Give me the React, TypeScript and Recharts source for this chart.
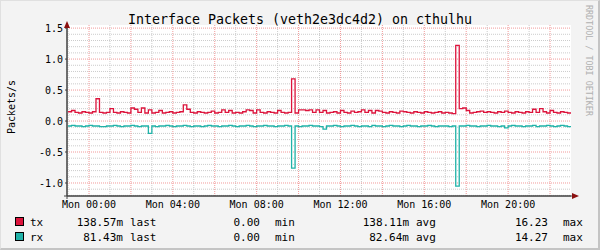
import { LineChart, Line, XAxis, YAxis, CartesianGrid } from "recharts";

// 10 minute samples, starting Sun 23:00 (t = -1 h)
const startHour = -1;
const stepHours = 1 / 6;

const tx = [
  0.15, 0.17, 0.14, 0.13, 0.15, 0.14, 0.13, 0.15, 0.36, 0.14, 0.13, 0.14,
  0.2, 0.14, 0.13, 0.15, 0.14, 0.13, 0.21, 0.19, 0.14, 0.21, 0.13, 0.18,
  0.13, 0.14, 0.17, 0.13, 0.14, 0.15, 0.13, 0.14, 0.15, 0.26, 0.19, 0.14,
  0.13, 0.15, 0.14, 0.13, 0.14, 0.16, 0.13, 0.14, 0.18, 0.14, 0.17, 0.13,
  0.14, 0.13, 0.15, 0.18, 0.17, 0.13, 0.18, 0.14, 0.13, 0.15, 0.14, 0.13,
  0.17, 0.14, 0.13, 0.14, 0.68, 0.13, 0.18, 0.18, 0.17, 0.18, 0.14, 0.18,
  0.14, 0.17, 0.13, 0.14, 0.15, 0.13, 0.17, 0.14, 0.13, 0.16, 0.14, 0.15,
  0.18, 0.14, 0.17, 0.13, 0.17, 0.16, 0.14, 0.13, 0.15, 0.14, 0.13, 0.16,
  0.15, 0.14, 0.13, 0.15, 0.14, 0.13, 0.15, 0.14, 0.13, 0.14, 0.15, 0.13,
  0.14, 0.13, 0.12, 1.22, 0.2, 0.21, 0.17, 0.13, 0.14, 0.15, 0.16, 0.14,
  0.15, 0.14, 0.13, 0.15, 0.14, 0.16, 0.14, 0.13, 0.15, 0.14, 0.13, 0.15,
  0.14, 0.19, 0.14, 0.2, 0.15, 0.13, 0.17, 0.14, 0.13, 0.15, 0.14, 0.13, 0.14,
];

// rx is drawn mirrored below zero
const rx = [
  0.08, 0.07, 0.08, 0.08, 0.09, 0.08, 0.07, 0.08, 0.08, 0.09, 0.09, 0.08,
  0.08, 0.07, 0.08, 0.09, 0.08, 0.08, 0.07, 0.08, 0.09, 0.08, 0.08, 0.2,
  0.08, 0.09, 0.08, 0.08, 0.07, 0.08, 0.09, 0.08, 0.08, 0.07, 0.08, 0.09,
  0.08, 0.08, 0.09, 0.08, 0.07, 0.08, 0.08, 0.09, 0.08, 0.08, 0.07, 0.08,
  0.09, 0.08, 0.08, 0.07, 0.08, 0.09, 0.08, 0.08, 0.07, 0.08, 0.08, 0.09,
  0.08, 0.08, 0.07, 0.08, 0.76, 0.08, 0.09, 0.08, 0.08, 0.07, 0.08, 0.08,
  0.09, 0.13, 0.08, 0.08, 0.07, 0.08, 0.09, 0.08, 0.08, 0.07, 0.08, 0.09,
  0.08, 0.08, 0.09, 0.07, 0.08, 0.08, 0.09, 0.08, 0.07, 0.08, 0.08, 0.09,
  0.08, 0.07, 0.08, 0.08, 0.09, 0.08, 0.08, 0.07, 0.08, 0.09, 0.08, 0.08,
  0.08, 0.09, 0.08, 1.05, 0.08, 0.08, 0.07, 0.08, 0.08, 0.09, 0.08, 0.08,
  0.07, 0.08, 0.08, 0.09, 0.08, 0.11, 0.08, 0.07, 0.08, 0.08, 0.09, 0.08,
  0.08, 0.07, 0.09, 0.08, 0.08, 0.07, 0.08, 0.09, 0.08, 0.07, 0.08, 0.09, 0.08,
];

const xLabelHours = [0, 4, 8, 12, 16, 20];
const xMajorHours = [0, 2, 4, 6, 8, 10, 12, 14, 16, 18, 20, 22];
const xMinorHours = [-1, 1, 3, 5, 7, 9, 11, 13, 15, 17, 19, 21];
const yMajor = [-1, -0.5, 0, 0.5, 1, 1.5];
const yMinor = [
  -1.2, -1.1, -0.9, -0.8, -0.7, -0.6, -0.4, -0.3, -0.2, -0.1, 0.1, 0.2, 0.3,
  0.4, 0.6, 0.7, 0.8, 0.9, 1.1, 1.2, 1.3, 1.4,
];

const legendRows = [
  { name: "tx", color: "#dc143c", last: "138.57m", min: "0.00", avg: "138.11m", max: "16.23" },
  { name: "rx", color: "#20b2a8", last: "81.43m", min: "0.00", avg: "82.64m", max: "14.27" },
];

const data = tx.map((v, i) => ({
  t: startHour + i * stepHours,
  tx: v,
  rx: -rx[i],
}));

const mono = "'DejaVu Sans Mono', monospace";

export default function App() {
  return (
    <div
      style={{
        position: "absolute",
        left: 0,
        top: 0,
        width: 600,
        height: 250,
        background: "#f3f3f3",
        boxSizing: "border-box",
        borderRight: "2px solid #c4c4c4",
        borderBottom: "2px solid #c4c4c4",
        borderTop: "1px solid #e0e0e0",
        borderLeft: "1px solid #e0e0e0",
      }}
    >
      <div style={{ position: "absolute", left: -1, top: -1 }}>
        <LineChart
          width={600}
          height={250}
          data={data}
          margin={{ top: 25, right: 29, bottom: 34, left: 0 }}
        >
          <CartesianGrid
            fill="#ffffff"
            stroke="#cccccc"
            strokeDasharray="1 1"
            horizontalValues={yMinor}
            verticalValues={xMinorHours}
          />
          <CartesianGrid
            stroke="#f29a9a"
            strokeDasharray="1 1"
            horizontalValues={yMajor}
            verticalValues={xMajorHours}
          />
          <XAxis
            dataKey="t"
            type="number"
            domain={[-1.05, 23]}
            allowDataOverflow
            ticks={xLabelHours}
            tickFormatter={(h) => `Mon ${String(h).padStart(2, "0")}:00`}
            height={20}
            tickSize={3}
            tickMargin={2}
            tickLine={false}
            axisLine={{ stroke: "#404040" }}
            tick={{ fontFamily: mono, fontSize: 10, fill: "#000" }}
            interval={0}
          />
          <YAxis
            type="number"
            domain={[-1.21, 1.55]}
            allowDataOverflow
            ticks={yMajor}
            tickFormatter={(v) => v.toFixed(1)}
            width={67}
            tickSize={2}
            tickMargin={2}
            tickLine={{ stroke: "#404040" }}
            axisLine={{ stroke: "#404040" }}
            tick={{ fontFamily: mono, fontSize: 10, fill: "#000" }}
            interval={0}
          />
          <Line
            type="stepAfter"
            dataKey="tx"
            stroke="#dc143c"
            strokeWidth={1.3}
            dot={false}
            isAnimationActive={false}
          />
          <Line
            type="stepAfter"
            dataKey="rx"
            stroke="#20b2a8"
            strokeWidth={1.3}
            dot={false}
            isAnimationActive={false}
          />
        </LineChart>

        {/* titles, legend and rrdtool decorations */}
        <svg
          width={600}
          height={250}
          style={{ position: "absolute", left: 0, top: 0, pointerEvents: "none" }}
          fontFamily={mono}
        >
          <text x={300} y={24} textAnchor="middle" fontSize={13.3} fill="#000">
            Interface Packets (veth2e3dc4d2) on cthulhu
          </text>
          <text
            x={15}
            y={107}
            textAnchor="middle"
            fontSize={10}
            fill="#000"
            transform="rotate(-90 15 107)"
          >
            Packets/s
          </text>
          <text
            x={586}
            y={5}
            fontSize={8.4}
            fill="#b0b0b0"
            transform="rotate(90 586 5)"
          >
            RRDTOOL / TOBI OETIKER
          </text>
          <line x1={67} y1={199} x2={67} y2={27} stroke="#404040" />
          <line x1={64} y1={196} x2={573} y2={196} stroke="#404040" />
          <polygon points="64,28 70,28 67,21" fill="#8b1010" />
          <polygon points="572,193 572,199 579,196" fill="#8b1010" />
          {legendRows.map((r, i) => {
            const y = 226 + i * 15;
            return (
              <g key={r.name} fontSize={11} fill="#000">
                <rect x={15.5} y={y - 8.5} width={8} height={8} fill={r.color} stroke="#000" />
                <text x={30} y={y}>{r.name}</text>
                <text x={123} y={y} textAnchor="end">{r.last}</text>
                <text x={130} y={y}>last</text>
                <text x={260} y={y} textAnchor="end">{r.min}</text>
                <text x={275} y={y}>min</text>
                <text x={409} y={y} textAnchor="end">{r.avg}</text>
                <text x={416} y={y}>avg</text>
                <text x={548} y={y} textAnchor="end">{r.max}</text>
                <text x={563} y={y}>max</text>
              </g>
            );
          })}
        </svg>
      </div>
    </div>
  );
}
